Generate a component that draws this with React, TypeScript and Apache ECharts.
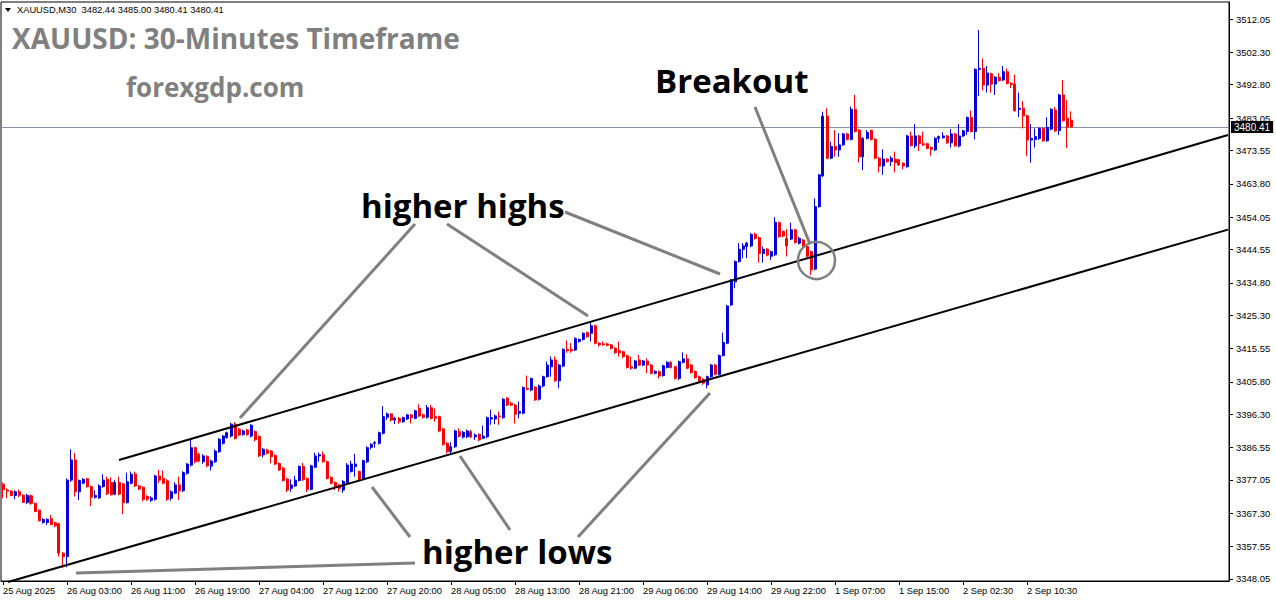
import React, { useEffect, useRef } from "react";
import * as echarts from "echarts";

// Time-axis labels (one every 16 bars of 30 minutes)
const TIME_LABELS = [
  "25 Aug 2025", "26 Aug 03:00", "26 Aug 11:00", "26 Aug 19:00", "27 Aug 04:00",
  "27 Aug 12:00", "27 Aug 20:00", "28 Aug 05:00", "28 Aug 13:00", "28 Aug 21:00",
  "29 Aug 06:00", "29 Aug 14:00", "29 Aug 22:00", "1 Sep 07:00", "1 Sep 15:00",
  "2 Sep 02:30", "2 Sep 10:30",
];
// Price-scale labels
const PRICE_TICKS = [
  3512.05, 3502.3, 3492.8, 3483.05, 3473.55, 3463.8, 3454.05, 3444.55, 3434.8,
  3425.3, 3415.55, 3405.8, 3396.3, 3386.55, 3377.05, 3367.3, 3357.55, 3348.05,
];
const BARS_PER_LABEL = 16;
const EMPTY_SLOTS = 39; // free space right of the last bar
const Y_MIN = 3347.46;
const Y_MAX = 3517.03;

// OHLC bars [open, high, low, close], one block per time label
const b00 = [
  [3375.8, 3376.3, 3371.7, 3374.2], [3374.1, 3374.6, 3371.7, 3373.8], [3373.8, 3374.0, 3372.3, 3372.5], [3372.5, 3374.0, 3371.4, 3373.6],
  [3373.6, 3374.2, 3372.0, 3372.6], [3372.6, 3372.8, 3370.3, 3370.5], [3370.5, 3373.0, 3370.0, 3372.5], [3372.4, 3372.8, 3369.8, 3370.2],
  [3370.2, 3370.4, 3367.6, 3367.8], [3368.2, 3368.4, 3364.9, 3365.1], [3364.6, 3365.8, 3364.3, 3365.5], [3364.6, 3365.8, 3363.9, 3365.5],
  [3365.7, 3366.8, 3363.8, 3364.0], [3364.5, 3364.8, 3363.2, 3363.6], [3364.2, 3364.5, 3354.6, 3355.6], [3355.6, 3356.0, 3351.2, 3354.6],
];
const b01 = [
  [3354.6, 3377.5, 3351.5, 3377.0], [3377.0, 3386.0, 3376.5, 3382.9], [3382.9, 3384.9, 3372.2, 3373.6], [3373.6, 3377.2, 3371.2, 3376.9],
  [3376.1, 3377.6, 3375.8, 3377.2], [3377.4, 3377.6, 3374.8, 3375.1], [3375.1, 3375.4, 3369.4, 3372.0], [3372.0, 3374.0, 3371.6, 3372.5],
  [3371.8, 3375.8, 3371.5, 3375.3], [3375.1, 3378.7, 3374.8, 3377.0], [3377.2, 3378.0, 3372.6, 3373.0], [3376.3, 3377.8, 3372.5, 3372.7],
  [3372.9, 3377.0, 3372.6, 3376.3], [3376.3, 3378.0, 3372.6, 3372.9], [3375.9, 3376.2, 3367.1, 3370.4], [3370.4, 3379.2, 3370.2, 3376.5],
];
const b02 = [
  [3376.1, 3379.5, 3375.8, 3378.7], [3378.8, 3379.5, 3375.0, 3375.3], [3375.3, 3375.6, 3374.1, 3374.4], [3374.9, 3375.2, 3370.8, 3371.4],
  [3372.2, 3372.6, 3370.9, 3371.4], [3371.1, 3372.3, 3370.6, 3371.8], [3371.4, 3378.6, 3371.0, 3378.2], [3378.2, 3380.0, 3376.1, 3377.0],
  [3377.5, 3379.8, 3375.8, 3376.1], [3376.8, 3377.3, 3370.9, 3371.4], [3371.7, 3374.0, 3371.0, 3373.6], [3373.2, 3376.4, 3373.0, 3375.6],
  [3375.6, 3378.0, 3371.2, 3373.9], [3373.9, 3379.6, 3373.5, 3379.2], [3379.0, 3382.0, 3378.6, 3381.7], [3381.4, 3388.8, 3381.0, 3386.5],
];
const b03 = [
  [3386.5, 3386.8, 3381.9, 3382.4], [3384.6, 3385.0, 3382.2, 3382.6], [3382.4, 3384.6, 3381.8, 3384.1], [3383.9, 3384.3, 3380.8, 3381.2],
  [3381.1, 3383.0, 3379.8, 3382.6], [3382.4, 3386.0, 3382.0, 3385.5], [3385.3, 3389.3, 3385.0, 3389.0], [3387.8, 3390.2, 3387.4, 3389.9],
  [3389.5, 3391.2, 3389.1, 3390.9], [3389.9, 3393.8, 3389.5, 3393.4], [3393.4, 3394.0, 3388.9, 3389.2], [3391.9, 3392.3, 3389.9, 3390.2],
  [3390.4, 3391.8, 3390.0, 3391.4], [3391.7, 3392.0, 3390.0, 3390.4], [3389.9, 3393.4, 3389.5, 3393.1], [3391.2, 3391.6, 3388.4, 3388.8],
];
const b04 = [
  [3389.8, 3390.1, 3383.8, 3384.1], [3384.4, 3386.4, 3383.6, 3386.0], [3385.8, 3386.2, 3384.5, 3384.9], [3385.5, 3385.8, 3381.9, 3383.9],
  [3384.2, 3384.5, 3381.4, 3381.7], [3381.9, 3382.2, 3379.7, 3380.0], [3380.5, 3380.8, 3376.6, 3376.9], [3377.3, 3377.6, 3373.5, 3374.1],
  [3374.6, 3377.2, 3373.6, 3375.6], [3375.3, 3378.3, 3375.0, 3377.0], [3376.9, 3381.3, 3376.6, 3381.0], [3381.0, 3382.0, 3376.8, 3377.1],
  [3377.5, 3377.8, 3373.5, 3374.3], [3374.3, 3381.5, 3374.0, 3381.2], [3380.8, 3385.0, 3380.5, 3384.1], [3384.1, 3385.1, 3382.4, 3384.4],
];
const b05 = [
  [3384.4, 3385.4, 3382.1, 3382.4], [3382.4, 3382.7, 3377.2, 3377.5], [3377.8, 3378.1, 3375.8, 3376.1], [3376.3, 3376.6, 3374.1, 3375.1],
  [3375.6, 3375.9, 3373.6, 3374.6], [3374.1, 3377.0, 3373.3, 3376.6], [3376.3, 3382.0, 3376.0, 3381.4], [3379.5, 3382.7, 3379.2, 3381.7],
  [3381.0, 3384.7, 3378.0, 3381.7], [3379.5, 3379.8, 3376.5, 3377.0], [3377.5, 3383.0, 3377.0, 3382.7], [3382.4, 3386.9, 3382.0, 3386.5],
  [3386.6, 3387.8, 3386.0, 3387.5], [3387.8, 3388.4, 3386.5, 3388.0], [3387.8, 3391.2, 3387.4, 3390.9], [3390.7, 3398.7, 3390.4, 3395.6],
];
const b06 = [
  [3395.4, 3396.8, 3394.6, 3396.4], [3396.4, 3396.6, 3394.2, 3394.6], [3394.6, 3395.6, 3393.4, 3395.1], [3395.1, 3395.5, 3393.5, 3394.1],
  [3394.1, 3395.6, 3393.8, 3395.3], [3394.9, 3396.4, 3394.6, 3396.1], [3396.1, 3396.4, 3393.6, 3395.3], [3395.1, 3397.6, 3394.8, 3397.3],
  [3398.0, 3399.2, 3395.5, 3395.8], [3396.1, 3396.5, 3395.0, 3395.4], [3395.4, 3399.0, 3395.0, 3398.2], [3398.2, 3399.0, 3394.8, 3395.1],
  [3395.6, 3398.0, 3394.1, 3395.1], [3395.6, 3395.9, 3391.0, 3391.4], [3392.0, 3392.3, 3387.1, 3387.5], [3387.8, 3388.1, 3384.8, 3385.4],
];
const b07 = [
  [3385.4, 3388.1, 3384.4, 3386.8], [3386.8, 3391.8, 3386.4, 3391.4], [3391.2, 3392.2, 3389.5, 3389.9], [3389.6, 3391.4, 3389.2, 3391.0],
  [3389.7, 3391.8, 3389.3, 3391.4], [3391.2, 3391.7, 3389.3, 3389.7], [3389.7, 3390.7, 3388.8, 3390.2], [3390.4, 3390.7, 3388.4, 3388.8],
  [3389.3, 3393.0, 3389.0, 3389.9], [3389.7, 3395.6, 3389.3, 3395.3], [3394.9, 3397.6, 3393.2, 3395.3], [3394.9, 3396.2, 3393.4, 3395.8],
  [3395.8, 3397.1, 3393.2, 3395.6], [3395.3, 3401.0, 3395.0, 3400.7], [3401.0, 3401.3, 3398.7, 3399.0], [3399.5, 3400.0, 3398.7, 3399.0],
];
const b08 = [
  [3399.0, 3399.3, 3393.6, 3396.3], [3396.6, 3400.0, 3395.1, 3397.1], [3396.6, 3404.4, 3396.3, 3404.1], [3403.9, 3407.6, 3403.3, 3403.6],
  [3403.4, 3407.0, 3403.0, 3406.8], [3404.2, 3404.6, 3400.2, 3400.5], [3400.7, 3405.0, 3400.3, 3404.6], [3404.6, 3407.6, 3404.2, 3407.3],
  [3407.3, 3411.7, 3407.0, 3410.7], [3410.2, 3413.2, 3407.3, 3412.2], [3412.2, 3413.2, 3405.8, 3406.1], [3406.1, 3411.0, 3403.9, 3410.7],
  [3410.4, 3415.6, 3410.1, 3415.3], [3415.3, 3417.9, 3414.3, 3414.9], [3415.3, 3417.1, 3414.3, 3414.9], [3415.1, 3418.8, 3414.8, 3418.5],
];
const b09 = [
  [3417.6, 3418.5, 3417.3, 3418.2], [3418.2, 3420.3, 3417.9, 3420.0], [3420.2, 3420.5, 3418.7, 3419.0], [3420.0, 3423.4, 3417.6, 3422.2],
  [3422.2, 3422.5, 3416.8, 3417.1], [3417.1, 3417.4, 3416.1, 3416.6], [3416.9, 3417.6, 3416.3, 3416.7], [3416.9, 3417.2, 3416.2, 3416.5],
  [3416.6, 3416.9, 3415.3, 3415.6], [3415.6, 3415.9, 3414.0, 3414.3], [3414.9, 3417.6, 3413.2, 3414.3], [3414.6, 3414.9, 3412.7, 3413.2],
  [3413.4, 3413.7, 3409.7, 3410.0], [3410.2, 3413.2, 3409.3, 3409.8], [3409.8, 3412.2, 3409.5, 3411.9], [3412.2, 3413.7, 3410.4, 3410.7],
];
const b10 = [
  [3410.7, 3412.2, 3410.4, 3411.9], [3411.9, 3412.7, 3408.3, 3410.7], [3410.7, 3411.0, 3408.0, 3408.3], [3408.3, 3409.2, 3408.0, 3408.8],
  [3408.8, 3409.1, 3406.8, 3407.5], [3407.6, 3410.8, 3407.3, 3410.5], [3410.0, 3411.8, 3409.7, 3411.5], [3411.5, 3411.8, 3409.7, 3410.0],
  [3410.2, 3410.5, 3406.5, 3406.8], [3406.8, 3412.0, 3406.3, 3411.7], [3411.5, 3414.4, 3411.2, 3412.5], [3412.5, 3413.9, 3409.5, 3409.8],
  [3410.7, 3411.0, 3408.2, 3408.5], [3408.8, 3409.1, 3406.7, 3407.0], [3407.3, 3407.6, 3405.6, 3405.9], [3406.5, 3406.8, 3404.9, 3405.4],
];
const b11 = [
  [3404.9, 3407.6, 3403.9, 3407.3], [3407.3, 3411.0, 3407.0, 3410.7], [3410.7, 3411.0, 3407.7, 3408.0], [3408.0, 3413.8, 3407.7, 3413.5],
  [3413.5, 3420.2, 3413.2, 3417.3], [3417.1, 3428.3, 3416.8, 3428.0], [3428.3, 3435.9, 3428.0, 3435.6], [3435.1, 3441.3, 3433.2, 3441.0],
  [3441.0, 3446.4, 3440.7, 3444.6], [3444.6, 3446.4, 3442.0, 3445.6], [3445.4, 3446.8, 3442.0, 3446.4], [3445.6, 3449.3, 3445.2, 3449.0],
  [3449.0, 3449.5, 3447.4, 3447.8], [3448.0, 3448.3, 3440.7, 3443.4], [3443.4, 3445.4, 3440.7, 3444.6], [3444.6, 3445.0, 3442.5, 3442.9],
];
const b12 = [
  [3442.6, 3444.2, 3441.5, 3443.9], [3443.0, 3454.0, 3442.6, 3452.5], [3452.4, 3452.7, 3448.0, 3448.3], [3449.8, 3450.1, 3448.2, 3448.5],
  [3447.8, 3450.5, 3442.5, 3445.6], [3447.6, 3452.4, 3447.3, 3450.3], [3450.3, 3450.6, 3446.3, 3446.6], [3446.4, 3448.3, 3446.0, 3447.8],
  [3447.3, 3447.6, 3444.9, 3445.2], [3445.4, 3445.7, 3442.3, 3442.6], [3443.9, 3444.2, 3437.1, 3438.6], [3438.8, 3459.5, 3438.5, 3457.1],
  [3457.1, 3466.7, 3456.8, 3466.4], [3466.1, 3484.9, 3465.8, 3483.6], [3483.6, 3485.9, 3471.0, 3471.3], [3471.3, 3476.1, 3471.0, 3474.7],
];
const b13 = [
  [3474.7, 3479.5, 3471.7, 3473.7], [3473.7, 3478.6, 3471.7, 3475.2], [3475.2, 3478.7, 3474.9, 3478.4], [3478.4, 3478.7, 3476.5, 3476.8],
  [3476.8, 3486.4, 3476.5, 3485.6], [3485.6, 3489.8, 3478.8, 3479.1], [3479.5, 3479.8, 3470.0, 3471.7], [3471.7, 3477.4, 3467.8, 3477.1],
  [3477.1, 3479.5, 3476.8, 3478.8], [3479.4, 3479.7, 3476.5, 3476.8], [3476.8, 3477.1, 3471.0, 3471.3], [3471.3, 3471.6, 3467.1, 3469.0],
  [3469.0, 3473.9, 3466.4, 3471.0], [3471.0, 3471.3, 3470.0, 3470.3], [3470.3, 3471.9, 3469.0, 3471.3], [3471.0, 3473.2, 3467.1, 3470.0],
];
const b14 = [
  [3470.8, 3471.1, 3469.0, 3469.3], [3469.8, 3470.1, 3468.0, 3469.0], [3468.8, 3478.1, 3468.5, 3477.8], [3477.8, 3479.1, 3474.7, 3475.0],
  [3474.9, 3481.3, 3474.2, 3477.8], [3477.8, 3478.1, 3473.4, 3475.5], [3475.5, 3479.1, 3474.8, 3475.2], [3475.5, 3475.8, 3473.9, 3474.2],
  [3474.4, 3474.7, 3472.0, 3473.9], [3473.7, 3477.4, 3473.4, 3477.1], [3477.1, 3477.9, 3475.8, 3477.6], [3477.3, 3478.9, 3477.0, 3477.8],
  [3477.8, 3478.1, 3475.5, 3475.8], [3475.8, 3479.8, 3474.4, 3478.4], [3478.4, 3478.7, 3474.6, 3474.9], [3474.9, 3481.3, 3474.4, 3477.8],
];
const b15 = [
  [3477.8, 3479.6, 3477.5, 3479.3], [3479.1, 3483.5, 3478.1, 3483.2], [3483.2, 3485.2, 3478.8, 3479.1], [3479.1, 3497.6, 3476.8, 3497.3],
  [3497.3, 3508.8, 3489.5, 3497.6], [3497.6, 3500.5, 3491.1, 3492.7], [3492.7, 3498.3, 3490.5, 3496.2], [3496.0, 3496.3, 3490.5, 3493.0],
  [3493.0, 3495.3, 3489.8, 3495.0], [3495.0, 3496.2, 3493.7, 3494.0], [3494.2, 3498.3, 3493.9, 3496.6], [3496.6, 3497.6, 3492.9, 3493.2],
  [3493.2, 3493.5, 3491.8, 3492.9], [3493.0, 3495.7, 3484.9, 3485.2], [3485.6, 3490.5, 3483.3, 3485.9], [3485.9, 3488.0, 3480.0, 3483.7],
];
const b16 = [
  [3483.7, 3484.0, 3471.9, 3476.6], [3476.6, 3481.3, 3470.0, 3477.1], [3476.8, 3480.0, 3474.4, 3477.6], [3477.1, 3480.3, 3476.6, 3480.0],
  [3480.0, 3480.3, 3476.1, 3476.4], [3476.4, 3483.3, 3476.1, 3480.3], [3479.8, 3485.9, 3479.5, 3485.6], [3485.4, 3486.2, 3479.0, 3479.3],
  [3479.4, 3490.1, 3478.1, 3489.8], [3489.8, 3494.2, 3482.0, 3482.3], [3483.0, 3488.3, 3474.2, 3480.4], [3482.44, 3485.0, 3480.41, 3480.41],
];

const BARS = [b00, b01, b02, b03, b04, b05, b06, b07, b08, b09, b10, b11, b12, b13, b14, b15, b16].flat();

const BULL = "#0000dd";
const BEAR = "#ff0000";
const GRAY = "#808080";

export default function App() {
  const ref = useRef<HTMLDivElement>(null);

  useEffect(() => {
    if (!ref.current) return;
    const chart = echarts.init(ref.current, null, { renderer: "svg" });
    const n = BARS.length;
    const categories = Array.from({ length: n + EMPTY_SLOTS }, (_, i) => String(i));
    const candleData = BARS.map(([o, h, l, c]) => [o, c, l, h]);
    const last = BARS[n - 1];
    const showTick = (i: number) => i % BARS_PER_LABEL === 0 && i < n;

    const bigText = (text: string, x: number, y: number, size: number, fill: string) => ({
      type: "text",
      x,
      y,
      z: 100,
      style: {
        text,
        fill,
        fontSize: size,
        fontWeight: "bold",
        fontFamily: '"Open Sans", "DejaVu Sans", sans-serif',
        textVerticalAlign: "middle",
      },
    });
    const seg = (x1: number, y1: number, x2: number, y2: number, stroke: string, w: number) => ({
      type: "line",
      z: 90,
      shape: { x1, y1, x2, y2 },
      style: { stroke, lineWidth: w },
    });

    chart.setOption({
      animation: false,
      backgroundColor: "#ffffff",
      grid: { left: 1, right: 47, top: 2, bottom: 23, show: true, borderColor: "#000", borderWidth: 1 },
      xAxis: {
        type: "category",
        data: categories,
        boundaryGap: true,
        axisLine: { show: true, lineStyle: { color: "#000", width: 1 } },
        axisTick: {
          show: true,
          alignWithLabel: true,
          length: 4,
          interval: (i: number) => showTick(i),
          lineStyle: { color: "#000" },
        },
        axisLabel: {
          interval: (i: number) => showTick(i),
          formatter: (_v: string, i: number) => (showTick(i) ? TIME_LABELS[i / BARS_PER_LABEL] : ""),
          align: "left",
          margin: 5,
          color: "#000",
          fontSize: 9.3,
          fontFamily: '"Liberation Sans", sans-serif',
        },
        splitLine: { show: false },
      },
      yAxis: {
        type: "value",
        position: "right",
        min: Y_MIN,
        max: Y_MAX,
        scale: true,
        splitLine: { show: false },
        axisLine: { show: true, lineStyle: { color: "#000", width: 1 } },
        axisTick: { show: true, inside: false, length: 4, customValues: PRICE_TICKS, lineStyle: { color: "#000" } },
        axisLabel: {
          customValues: PRICE_TICKS,
          formatter: (v: number) => v.toFixed(2),
          color: "#000",
          fontSize: 9.5,
          margin: 7,
          fontFamily: '"Liberation Sans", sans-serif',
        },
      },
      series: [
        {
          type: "candlestick",
          name: "XAUUSD,M30",
          data: candleData,
          barWidth: 2.5,
          itemStyle: {
            color: BULL,
            color0: BEAR,
            borderColor: BULL,
            borderColor0: BEAR,
            borderWidth: 1,
          },
          markLine: {
            silent: true,
            symbol: ["none", "none"],
            lineStyle: { color: "#8593a3", width: 1, type: "solid" },
            label: {
              show: true,
              position: "end",
              distance: 2,
              formatter: () => last[3].toFixed(2),
              color: "#fff",
              backgroundColor: "#000",
              padding: [1, 3, 1, 3],
              fontSize: 10,
              fontFamily: '"Liberation Sans", sans-serif',
            },
            data: [{ yAxis: last[3] }],
          },
          z: 5,
        },
      ],
      graphic: [
        { type: "polygon", z: 100, shape: { points: [[5, 8], [11, 8], [8, 12]] }, style: { fill: "#000" } },
        {
          type: "text",
          x: 17,
          y: 10,
          z: 100,
          style: {
            text: `XAUUSD,M30  ${last.map((v) => v.toFixed(2)).join(" ")}`,
            fill: "#000",
            fontSize: 9.3,
            fontFamily: '"Liberation Sans", sans-serif',
            textVerticalAlign: "middle",
          },
        },
        bigText("XAUUSD: 30-Minutes Timeframe", 12, 38, 28, GRAY),
        bigText("forexgdp.com", 126, 87, 26, GRAY),
        bigText("Breakout", 655, 80, 33, "#000"),
        bigText("higher highs", 361, 205, 33, "#000"),
        bigText("higher lows", 422, 551, 33, "#000"),
        // channel lines
        seg(119, 460, 1228, 135, "#000", 2),
        seg(8, 582, 1228, 229.6, "#000", 2),
        // annotation pointers
        seg(415, 224, 240, 418, GRAY, 3),
        seg(447, 224, 588, 316, GRAY, 3),
        seg(565, 212, 720, 274, GRAY, 3),
        seg(755, 107, 810, 244, GRAY, 3),
        seg(410, 537, 372, 487, GRAY, 3),
        seg(510, 530, 460, 456, GRAY, 3),
        seg(578, 537, 710, 393, GRAY, 3),
        seg(415, 563, 76, 573, GRAY, 3),
        {
          type: "circle",
          z: 90,
          shape: { cx: 816.5, cy: 260.5, r: 18.5 },
          style: { fill: "none", stroke: GRAY, lineWidth: 2.5 },
        },
      ],
    });
    return () => chart.dispose();
  }, []);

  return (
    <div
      ref={ref}
      style={{ position: "fixed", left: 0, top: 0, width: 1276, height: 604, background: "#fff" }}
    />
  );
}
